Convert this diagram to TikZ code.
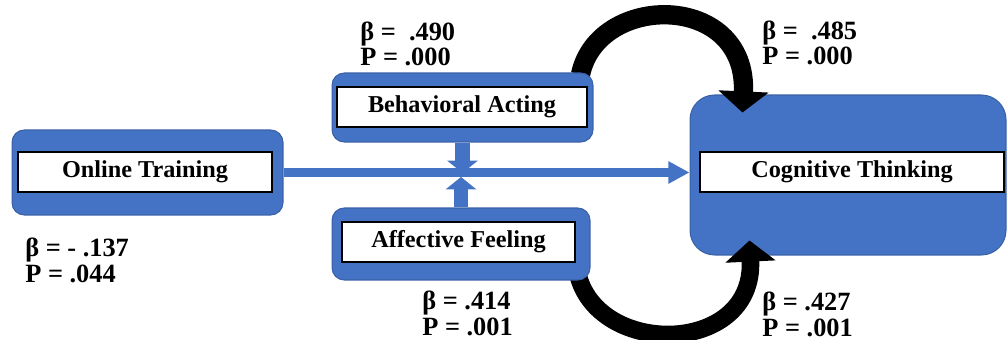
\documentclass[tikz,border=0pt]{standalone}
\usepackage{fontspec}
\setmainfont{Liberation Serif}
\usetikzlibrary{arrows.meta,calc}
\definecolor{myblue}{HTML}{4472C4}
\pgfdeclarelayer{back}
\pgfdeclarelayer{front}
\pgfsetlayers{back,main,front}

\begin{document}
\begin{tikzpicture}[x=0.02cm,y=-0.02cm,>=Triangle]
  \tikzstyle{outer}=[fill=myblue, draw=myblue!85!black, line width=0.6pt, rounded corners=7pt, inner sep=0pt]
  \tikzstyle{inner}=[fill=white, draw=black, line width=0.9pt, inner sep=0pt, font=\fontsize{13.8}{16}\selectfont\bfseries]
  \tikzstyle{lab}=[anchor=west, align=left, inner sep=0pt, font=\fontsize{15}{14.4}\selectfont\bfseries]
  \tikzstyle{blueline}=[draw=myblue, line width=5pt, -{Triangle[width=12pt,length=12pt]}]
  \tikzstyle{vert}=[draw=myblue, line width=8pt, -{Triangle[width=17pt,length=7pt]}]
  \tikzstyle{curl}=[draw=black, -{Triangle[width=28pt,length=12pt]}]

  \useasboundingbox (0,0) rectangle (1007,340);

  \begin{pgfonlayer}{back}
    \node[outer, rounded corners=14pt, minimum width=6.32cm, minimum height=3.2cm] (think) at (848,175) {};
  \end{pgfonlayer}

  \begin{pgfonlayer}{front}
    \node[outer, minimum width=5.42cm, minimum height=1.7cm] (train) at (147.5,172.5) {};
    \node[outer, minimum width=5.22cm, minimum height=1.38cm] (act) at (462.5,107.5) {};
    \node[outer, minimum width=5.16cm, minimum height=1.44cm] (feel) at (461,244) {};

    \node[inner, minimum width=5.08cm, minimum height=0.8cm] (trainT) at (145,172) {Online Training};
    \node[inner, minimum width=5.0cm, minimum height=0.8cm]  (actT)   at (462,107) {Behavioral Acting};
    \node[inner, minimum width=4.66cm, minimum height=0.8cm] (feelT)  at (458.5,242) {Affective Feeling};
  \end{pgfonlayer}
  \node[inner, minimum width=6.08cm, minimum height=0.8cm] (thinkT) at (852,172) {Cognitive Thinking};

  % curved paths
  \draw[curl, line width=11pt] ($(act.north east)+(-13,2)$) coordinate (tailA)
        .. controls (598,-8) and (748,-8) .. ($(think.north west)+(53,18)$) coordinate (tipA);
  \draw[curl, line width=10pt] ($(feel.south east)+(-14,-13)$) coordinate (tailF)
        .. controls (590,358) and (755,358) .. ($(think.south west)+(60,-15)$) coordinate (tipF);

  \coordinate (meetA) at (461,173);
  \coordinate (meetF) at (461,177);

  \draw[blueline] (train.east) -- (train.east -| think.west);
  \draw[vert] (act.south) -- (act.south |- meetA);
  \draw[vert] (feel.north) -- (feel.north |- meetF);

  \node[lab] (b1) at (360,44)  {β =\ \ .490\\P = .000};
  \node[lab] (b2) at (762,43)  {β =\ \ .485\\P = .000};
  \node[lab] (b3) at (25,260.5) {β = - .137\\P = .044};
  \node[lab] (b4) at (422,313.5) {β = .414\\P = .001};
  \node[lab] (b5) at (762,314.5) {β = .427\\P = .001};
\end{tikzpicture}
\end{document}
